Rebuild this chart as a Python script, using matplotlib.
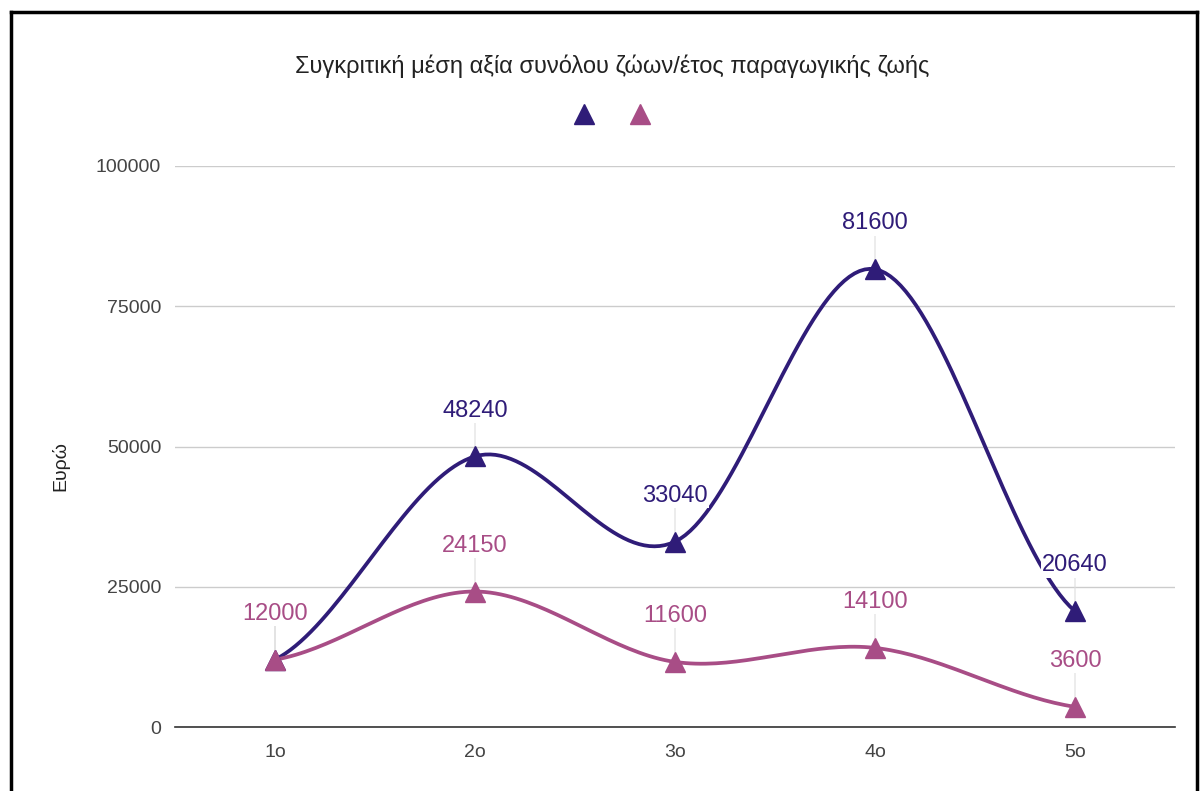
import matplotlib
matplotlib.use("Agg")
import matplotlib.pyplot as plt
import numpy as np
from matplotlib.lines import Line2D

# data
categories = ['1ο', '2ο', '3ο', '4ο', '5ο']
series_a = [12000, 48240, 33040, 81600, 20640]
series_b = [12000, 24150, 11600, 14100, 3600]
color_a = '#2f1c78'
color_b = '#a84d86'
title = 'Συγκριτική μέση αξία συνόλου ζώων/έτος παραγωγικής ζωής'
ylabel = 'Ευρώ'
yticks = [0, 25000, 50000, 75000, 100000]

plt.rcParams['font.family'] = ['Liberation Sans', 'DejaVu Sans']


def smooth(y, steps=40, k=0.5):
    # cardinal spline through the points (like a "function" curve)
    y = np.asarray(y, float)
    n = len(y)
    t = np.zeros(n)
    for i in range(n):
        if i == 0:
            t[i] = (y[1] - y[0]) * k
        elif i == n - 1:
            t[i] = (y[-1] - y[-2]) * k
        else:
            t[i] = (y[i + 1] - y[i - 1]) * k
    xs, ys = [], []
    for i in range(n - 1):
        s = np.linspace(0, 1, steps)
        h00 = 2 * s**3 - 3 * s**2 + 1
        h10 = s**3 - 2 * s**2 + s
        h01 = -2 * s**3 + 3 * s**2
        h11 = s**3 - s**2
        xs.append(i + s)
        ys.append(h00 * y[i] + h10 * t[i] + h01 * y[i + 1] + h11 * t[i + 1])
    return np.concatenate(xs), np.concatenate(ys)


fig = plt.figure(figsize=(12.02, 7.91), dpi=100)
ax = fig.add_axes([175 / 1202, 1 - 727 / 791, 1000 / 1202, (727 - 166) / 791])

x = np.arange(len(categories))
for vals, col in [(series_a, color_a), (series_b, color_b)]:
    sx, sy = smooth(vals)
    ax.plot(sx, sy, color=col, lw=2.7, solid_capstyle='round', zorder=3)
    ax.plot(x, vals, linestyle='none', marker='^', ms=15, color=col, zorder=4)
    for xi, v in zip(x, vals):
        ax.annotate('', xy=(xi, v), xytext=(0, 34), textcoords='offset points',
                    arrowprops=dict(arrowstyle='-', color='#dddddd', lw=0.8,
                                    shrinkA=0, shrinkB=7), zorder=2)
        ax.annotate(str(v), xy=(xi, v), xytext=(0, 33), textcoords='offset points',
                    ha='center', va='center', fontsize=17, color=col, zorder=5,
                    bbox=dict(boxstyle='square,pad=0.05', fc='white', ec='none'))

ax.set_xlim(-0.5, 4.5)
ax.set_ylim(0, 100000)
ax.set_xticks(x)
ax.set_xticklabels(categories)
ax.set_yticks(yticks)
ax.set_yticklabels([str(v) for v in yticks])
ax.tick_params(length=0, labelsize=14, colors='#444444', pad=10)
ax.tick_params(axis='x', pad=12)
ax.grid(axis='y', color='#cccccc', lw=1)
ax.set_axisbelow(True)
for s in ['top', 'right', 'left']:
    ax.spines[s].set_visible(False)
ax.spines['bottom'].set_color('#333333')
ax.spines['bottom'].set_linewidth(1.2)
ax.set_ylabel(ylabel, fontsize=14, color='#222222', labelpad=0)
ax.yaxis.set_label_coords(-0.106, 0.465)

fig.text(612 / 1202, 1 - 66 / 791, title, ha='center', va='center', fontsize=17, color='#222222')

# legend markers only
fig.add_artist(Line2D([584 / 1202], [1 - 114 / 791], marker='^', ms=14, color=color_a, linestyle='none'))
fig.add_artist(Line2D([640 / 1202], [1 - 114 / 791], marker='^', ms=14, color=color_b, linestyle='none'))

# black frame
fig.add_artist(Line2D([11 / 1202, 11 / 1202], [0, 1 - 12 / 791], color='black', lw=2.5))
fig.add_artist(Line2D([11 / 1202, 1197 / 1202], [1 - 12 / 791, 1 - 12 / 791], color='black', lw=2.5))
fig.add_artist(Line2D([1197 / 1202, 1197 / 1202], [0, 1 - 12 / 791], color='black', lw=2.5))

fig.savefig('out.png', dpi=100)
